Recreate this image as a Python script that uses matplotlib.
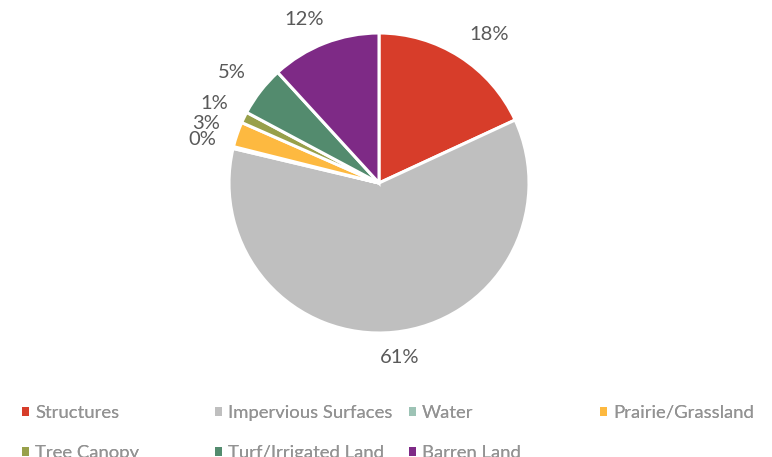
import numpy as np
import matplotlib
matplotlib.use("Agg")
import matplotlib.pyplot as plt
from matplotlib.patches import Patch

categories = ["Structures", "Impervious Surfaces", "Water", "Prairie/Grassland",
              "Tree Canopy", "Turf/Irrigated Land", "Barren Land"]
values = [18.1, 60.6, 0.2, 2.7, 1.2, 5.4, 11.8]
colors = ["#D73D2A", "#BFBFBF", "#9DC3B5", "#FDB940", "#98A04A", "#538B6E", "#7E2A86"]

W, H = 772, 457
cx, cy, R = 379, 183, 150  # pixel layout of pie (from top-left)

plt.rcParams['font.family'] = ['Lato', 'DejaVu Sans']
fig = plt.figure(figsize=(W / 100, H / 100), dpi=100)
ax = fig.add_axes([0, 0, 1, 1])

wedges, _ = ax.pie(values, colors=colors, startangle=90, counterclock=False,
                   wedgeprops=dict(edgecolor="white", linewidth=2.2))
ax.set_xlim(-cx / R, (W - cx) / R)
ax.set_ylim(-(H - cy) / R, cy / R)
ax.axis("off")

total = sum(values)
fig.canvas.draw()
renderer = fig.canvas.get_renderer()
for w, v in zip(wedges, values):
    phi = np.deg2rad((w.theta1 + w.theta2) / 2)
    ux, uy = np.cos(phi), np.sin(phi)
    t = ax.text(0, 0, f"{v / total * 100:.0f}%", ha="center", va="center",
                fontsize=14.5, color="#595959")
    bb = t.get_window_extent(renderer)
    tw, th = bb.width / R, (bb.height * 0.85) / R
    d = 1.12
    x = d * ux + tw / 2 * np.clip(2 * ux, -1, 1)
    y = d * uy + th / 2 * np.clip(2 * uy, -1, 1)
    t.set_position((x, y))

# legend: 4 columns, 2 rows (row-major order)
col_x = [22, 215, 409, 600]
row_y = [411, 450]
for ci, x in enumerate(col_x):
    idx = [i for i in (ci, ci + 4) if i < len(categories)]
    handles = [Patch(facecolor=colors[i], edgecolor="none") for i in idx]
    labels = [categories[i] for i in idx]
    leg = fig.legend(handles, labels, loc="upper left",
                     bbox_to_anchor=(x / W, 1 - (row_y[0] - 6) / H),
                     frameon=False, labelcolor="#939393",
                     prop=dict(size=13.3),
                     handlelength=0.38, handleheight=0.38, handletextpad=0.33,
                     labelspacing=1.3, borderpad=0, borderaxespad=0)
    fig.add_artist(leg)

fig.savefig("out.png", dpi=100)
